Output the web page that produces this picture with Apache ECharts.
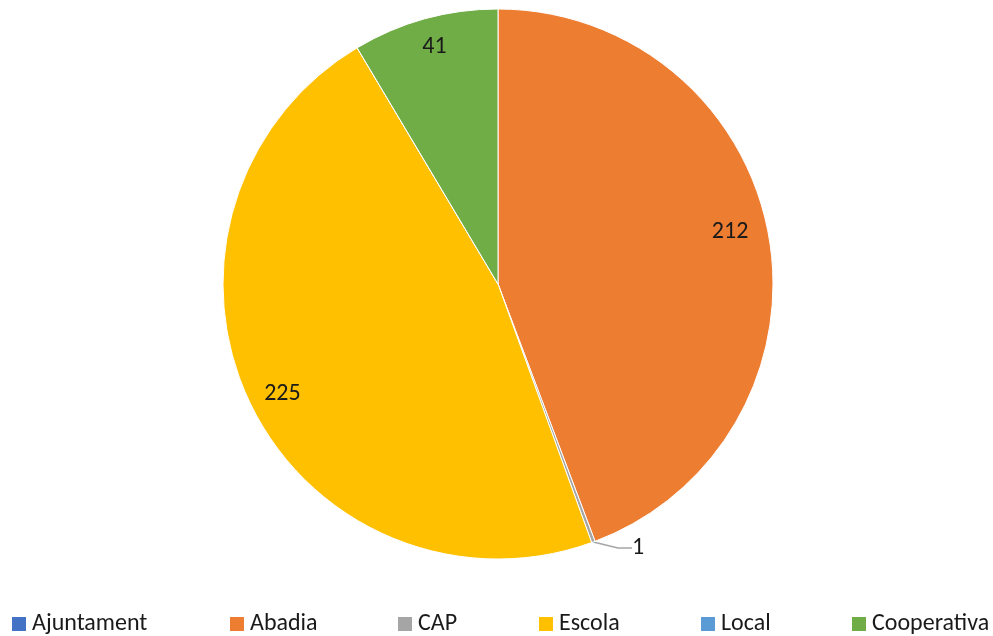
<!DOCTYPE html>
<html>
<head>
<meta charset="utf-8">
<script src="https://cdn.jsdelivr.net/npm/echarts@6/dist/echarts.min.js"></script>
<style>
  html, body { margin: 0; padding: 0; background: #fff; }
  #chart { width: 993px; height: 636px; }
</style>
</head>
<body>
<div id="chart"></div>
<script>
// dades
const categories = ['Ajuntament', 'Abadia', 'CAP', 'Escola', 'Local', 'Cooperativa']
const values = [0, 212, 1, 225, 0, 41]
const colors = ['#4472C4', '#ED7D31', '#A5A5A5', '#FFC000', '#5B9BD5', '#70AD47']

const legendLeft = [12, 230, 398, 539, 701, 852]
const textColor = '#1a1a1a'
const font = 'Calibri, Carlito, "Open Sans", sans-serif'

// petits ajustos de les etiquetes interiors (dx, dy)
const labelNudge = [[0, 0], [-7, -8], [0, 0], [4, 6], [0, 0], [1, -3]]

const chart = echarts.init(document.getElementById('chart'), null, { renderer: 'canvas' })

// llegendes separades per posar cada element on toca
const legends = categories.map((name, i) => ({
  left: legendLeft[i],
  top: 611,
  padding: 0,
  itemWidth: 14,
  itemHeight: 14,
  icon: 'rect',
  selectedMode: false,
  itemStyle: { borderWidth: 0 },
  data: [{ name: name, itemStyle: { color: colors[i], opacity: 1, borderWidth: 0 } }],
  textStyle: { fontSize: 24, lineHeight: 26, color: textColor, fontFamily: font, padding: [0, 0, 0, 1] },
}))

const option = {
  backgroundColor: '#fff',
  animation: false,
  legend: legends,
  series: [
    {
      name: 'main',
      type: 'pie',
      center: [498, 284],
      radius: [0, 275],
      startAngle: 90,
      clockwise: true,
      itemStyle: { borderColor: '#fff', borderWidth: 1 },
      data: categories.map((name, i) => ({
        name: name,
        value: values[i],
        itemStyle: { color: colors[i] },
        // només el "1" va a fora amb línia guia
        label: {
          show: values[i] === 1,
          position: 'outside',
          fontSize: 24,
          color: textColor,
          fontFamily: font,
          formatter: '{c}',
        },
        labelLine: {
          show: values[i] === 1,
          length: 12,
          length2: 14,
          lineStyle: { color: '#A5A5A5', width: 1.5 },
        },
      })),
      labelLayout: (params) => {
        if (params.dataIndex !== 2) return {}
        return { x: 632, y: 548, align: 'left', verticalAlign: 'middle' }
      },
      emphasis: { disabled: true },
    },
    {
      // sèrie invisible només per col·locar les etiquetes a prop de la vora
      name: 'labels',
      type: 'pie',
      silent: true,
      center: [498, 284],
      radius: [205, 275],
      startAngle: 90,
      clockwise: true,
      itemStyle: { color: 'rgba(0,0,0,0)', borderWidth: 0 },
      label: {
        position: 'inside',
        fontSize: 24,
        color: textColor,
        fontFamily: font,
        formatter: '{c}',
      },
      labelLine: { show: false },
      labelLayout: (params) => ({ dx: labelNudge[params.dataIndex][0], dy: labelNudge[params.dataIndex][1] }),
      data: categories.map((name, i) => ({
        name: name,
        value: values[i],
        label: { show: values[i] > 1 },
      })),
      emphasis: { disabled: true },
    },
  ],
}

chart.setOption(option)
</script>
</body>
</html>
